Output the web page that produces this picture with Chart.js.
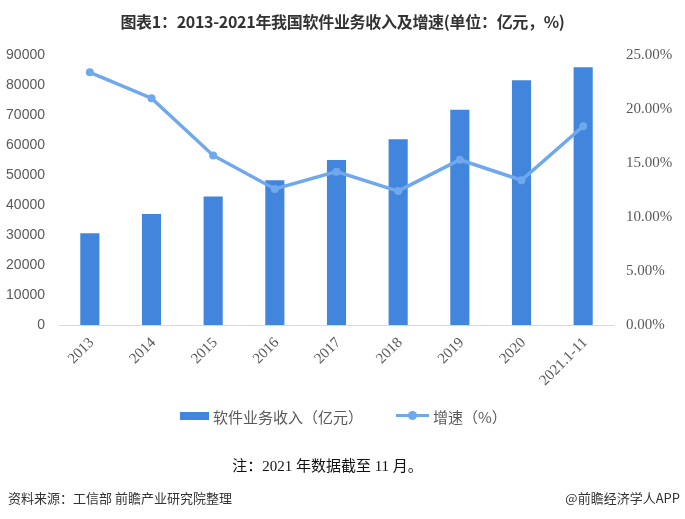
<!DOCTYPE html>
<html>
<head>
<meta charset="utf-8">
<script src="https://cdn.jsdelivr.net/npm/chart.js@4.4.1/dist/chart.umd.min.js"></script>
<style>
  html, body { margin: 0; padding: 0; background: #fff; }
  #wrap { position: relative; width: 685px; height: 519px; overflow: hidden; }
  #c { position: absolute; left: 0; top: 0; }
  .t { position: absolute; white-space: nowrap; }
  #title { left: 0; width: 685px; top: 9px; text-align: center; font: bold 16px "Noto Sans CJK SC", sans-serif; color: #333; letter-spacing: -0.3px; }
  #note { left: 0; width: 655px; top: 454px; text-align: center; font: 15px "Liberation Serif", "Noto Sans CJK SC", serif; color: #111; }
  #src { left: 8px; top: 488px; font: 13px "Noto Sans CJK SC", sans-serif; color: #333; }
  #app { right: 5px; top: 488px; font: 13px "Noto Sans CJK SC", sans-serif; color: #333; }
  .leg { position: absolute; top: 406px; font: 15px "Noto Sans CJK SC", sans-serif; color: #595959; }
</style>
</head>
<body>
<div id="wrap">
  <canvas id="c" width="685" height="519"></canvas>
  <div id="title" class="t">图表1：2013-2021年我国软件业务收入及增速(单位：亿元，%)</div>
  <div style="position:absolute;left:180px;top:412px;width:29px;height:8px;background:#4285dc;"></div>
  <div class="leg" style="left:213px;">软件业务收入（亿元）</div>
  <div style="position:absolute;left:396px;top:414px;width:33px;height:3px;background:#6fa8ec;"></div>
  <div style="position:absolute;left:408px;top:411px;width:9px;height:9px;border-radius:50%;background:#6fa8ec;"></div>
  <div class="leg" style="left:433px;">增速（%）</div>
  <div id="note" class="t">注：2021 年数据截至 11 月。</div>
  <div id="src" class="t">资料来源：工信部 前瞻产业研究院整理</div>
  <div id="app" class="t">@前瞻经济学人APP</div>
</div>
<script>
const categories = ["2013", "2014", "2015", "2016", "2017", "2018", "2019", "2020", "2021.1-11"];
const revenue = [30587, 37026, 42848, 48232, 55037, 61909, 71768, 81616, 85887];
const growth = [23.4, 21.0, 15.7, 12.6, 14.2, 12.4, 15.3, 13.4, 18.4];
const leftTicksMax = 90000, leftStep = 10000;
const rightTicksMax = 25, rightStep = 5;

new Chart(document.getElementById('c'), {
  data: {
    labels: categories,
    datasets: [
      {
        type: 'line', label: '增速（%）', data: growth, yAxisID: 'y1', order: 0,
        borderColor: '#6fa8ec', backgroundColor: '#6fa8ec', borderWidth: 3.5,
        pointRadius: 4, pointBackgroundColor: '#6fa8ec', pointBorderWidth: 0, tension: 0
      },
      {
        type: 'bar', label: '软件业务收入（亿元）', data: revenue, yAxisID: 'y', order: 1,
        backgroundColor: '#4285dc', barPercentage: 0.31, categoryPercentage: 1
      }
    ]
  },
  options: {
    responsive: false, animation: false, devicePixelRatio: 1,
    layout: { padding: { top: 55, bottom: 114, left: 0, right: 0 } },
    plugins: { legend: { display: false }, title: { display: false }, tooltip: { enabled: false } },
    scales: {
      x: {
        grid: { display: false, drawTicks: false },
        border: { display: true, color: '#d9d9d9', width: 1 },
        ticks: { maxRotation: 45, minRotation: 45, autoSkip: false, padding: 9, labelOffset: 2,
                 color: '#595959', font: { family: 'Liberation Serif', size: 15 } },
        afterFit: s => { s.height = 80; }
      },
      y: {
        position: 'left', min: 0, max: leftTicksMax,
        grid: { display: false, drawTicks: false }, border: { display: false },
        ticks: { stepSize: leftStep, padding: 14, color: '#595959', font: { family: 'Liberation Sans', size: 14 },
                 callback: v => String(v) },
        afterFit: s => { s.width = 59; }
      },
      y1: {
        position: 'right', min: 0, max: rightTicksMax,
        grid: { display: false, drawTicks: false }, border: { display: false },
        ticks: { stepSize: rightStep, padding: 12, color: '#595959', font: { family: 'Liberation Serif', size: 15 },
                 callback: v => Number(v).toFixed(2) + '%' },
        afterFit: s => { s.width = 71; }
      }
    }
  }
});
</script>
</body>
</html>
